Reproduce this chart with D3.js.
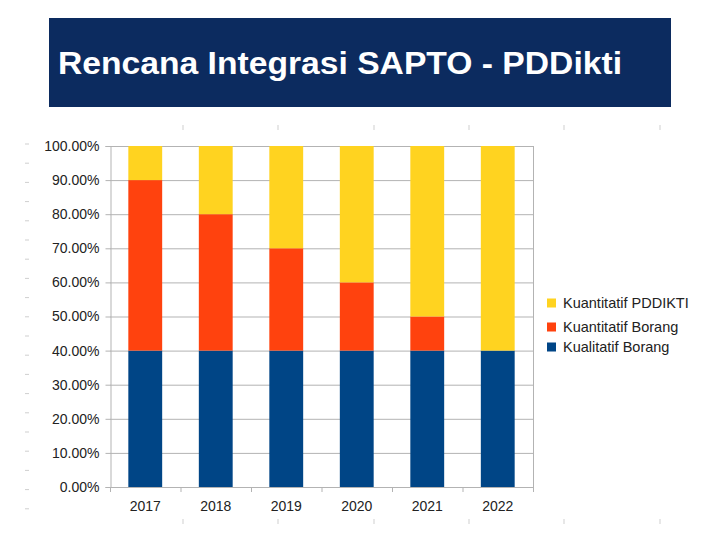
<!DOCTYPE html>
<html><head><meta charset="utf-8">
<script src="https://cdn.jsdelivr.net/npm/d3@7"></script>
<style>body{margin:0;background:#fff}svg{display:block}</style>
</head><body>
<script>
const title = "Rencana Integrasi SAPTO - PDDikti";
const years = ["2017","2018","2019","2020","2021","2022"];
const seriesNames = ["Kualitatif Borang","Kuantitatif Borang","Kuantitatif PDDIKTI"];
const kualitatifBorang = [0.40,0.40,0.40,0.40,0.40,0.40];
const kuantitatifBorang = [0.50,0.40,0.30,0.20,0.10,0.00];
const kuantitatifPddikti = [0.10,0.20,0.30,0.40,0.50,0.60];
const yTicks = [0,0.1,0.2,0.3,0.4,0.5,0.6,0.7,0.8,0.9,1.0];
const colors = ["#004586","#ff420e","#ffd320"];

const W=720,H=540;
const FONT="Liberation Sans, Arial, sans-serif";
const svg=d3.select("body").append("svg").attr("width",W).attr("height",H);

// title banner
svg.append("rect").attr("x",49).attr("y",18).attr("width",622).attr("height",89).attr("fill","#0c2b5f");
svg.append("text").attr("x",58).attr("y",74).attr("fill","#fff")
  .attr("font-family",FONT).attr("font-weight","bold")
  .attr("font-size",31).attr("textLength",564).attr("lengthAdjust","spacingAndGlyphs").text(title);

// faint slide ruler marks
const marks=svg.append("g").attr("stroke","#cfcfcf").attr("stroke-width",1);
d3.range(144,522,19.2).forEach(y=>marks.append("line").attr("x1",25).attr("x2",29).attr("y1",y).attr("y2",y));
[183,278,374,469,564,660].forEach(x=>{
  marks.append("line").attr("x1",x).attr("x2",x).attr("y1",125).attr("y2",130);
  marks.append("line").attr("x1",x).attr("x2",x).attr("y1",519).attr("y2",524);
});

const L=110,R=533,T=146,B=487;
const x=d3.scaleBand().domain(years).range([L,R]).paddingInner(0.52).paddingOuter(0.26);
const y=d3.scaleLinear().domain([0,1]).range([B,T]);

// gridlines
svg.append("g").selectAll("line").data(yTicks.slice(1)).join("line")
  .attr("x1",L).attr("x2",R).attr("y1",d=>y(d)+0.5).attr("y2",d=>y(d)+0.5)
  .attr("stroke","#b3b3b3").attr("stroke-width",1);
svg.append("line").attr("x1",R+0.5).attr("x2",R+0.5).attr("y1",T).attr("y2",B).attr("stroke","#b3b3b3");

// stacked bars
const rows=years.map((yr,i)=>({year:yr,a:kualitatifBorang[i],b:kuantitatifBorang[i],c:kuantitatifPddikti[i]}));
const stack=d3.stack().keys(["a","b","c"])(rows);
svg.append("g").selectAll("g").data(stack).join("g").attr("fill",(d,i)=>colors[i])
  .selectAll("rect").data(d=>d).join("rect")
  .attr("x",d=>x(d.data.year)).attr("width",x.bandwidth())
  .attr("y",d=>y(d[1])).attr("height",d=>y(d[0])-y(d[1]));

// y axis
const yAxis=svg.append("g").attr("transform",`translate(${L+0.5},0)`)
  .call(d3.axisLeft(y).tickValues(yTicks).tickFormat(d3.format(".2%")).tickSize(5).tickPadding(6));
yAxis.select(".domain").attr("stroke","#b3b3b3");
yAxis.selectAll(".tick line").attr("stroke","#b3b3b3");
yAxis.selectAll("text").attr("font-family",FONT).attr("font-size",14).attr("fill","#222");

// x axis
const xAxis=svg.append("g").attr("transform",`translate(0,${B+0.5})`)
  .call(d3.axisBottom(x).tickSize(0).tickPadding(14));
xAxis.select(".domain").attr("stroke","#b3b3b3").attr("d",`M${L},0H${R}`);
xAxis.selectAll("text").attr("font-family",FONT).attr("font-size",14).attr("fill","#222");
svg.append("g").selectAll("line").data(d3.range(years.length+1)).join("line")
  .attr("x1",d=>L+d*(R-L)/years.length+0.5).attr("x2",d=>L+d*(R-L)/years.length+0.5)
  .attr("y1",B).attr("y2",B+5).attr("stroke","#b3b3b3");

// legend
const legendItems=[2,1,0];
const legendY=[303,327,347];
const lg=svg.append("g");
legendItems.forEach((si,k)=>{
  const ly=legendY[k];
  lg.append("rect").attr("x",547).attr("y",ly-4.5).attr("width",9).attr("height",9).attr("fill",colors[si]);
  lg.append("text").attr("x",563).attr("y",ly+5).attr("font-family",FONT)
    .attr("font-size",14.5).attr("fill","#222").text(seriesNames[si]);
});
</script>
</body></html>
